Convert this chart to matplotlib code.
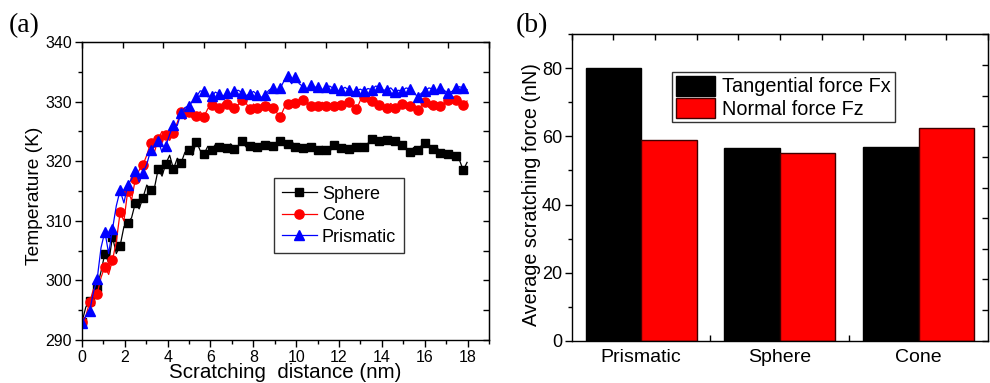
import numpy as np
import matplotlib
matplotlib.use("Agg")
import matplotlib.pyplot as plt
from matplotlib.ticker import MultipleLocator, FixedLocator, NullFormatter

plt.rcParams['font.family'] = ['Liberation Sans', 'DejaVu Sans']

# ---------------- (a) temperature vs scratching distance ----------------
n_samples = 102
distance_step = 0.178  # nm between recorded samples
marker_every = 2

sphere_T = [
    293.0, 295.5, 296.6, 297.5, 298.9, 301.5, 304.5, 303.0, 307.3, 304.5,
    305.8, 309.0, 309.7, 310.5, 313.0, 312.0, 313.9, 316.0, 315.2, 315.5,
    318.7, 317.5, 319.6, 321.0, 318.7, 320.5, 319.7, 321.5, 321.8, 321.0,
    323.3, 321.8, 321.2, 322.5, 321.9, 322.8, 322.3, 321.8, 322.2, 322.9,
    322.1, 322.6, 323.4, 322.4, 322.6, 323.0, 322.4, 322.0, 322.7, 323.1,
    322.5, 322.4, 323.4, 322.6, 322.9, 323.4, 322.4, 321.9, 322.2, 322.8,
    322.3, 322.0, 321.8, 322.5, 321.9, 321.6, 322.7, 322.4, 322.2, 322.8,
    322.0, 321.7, 322.3, 322.8, 322.3, 323.0, 323.8, 323.3, 323.4, 323.9,
    323.6, 323.1, 323.4, 323.0, 322.7, 322.1, 321.5, 322.3, 321.8, 322.6,
    323.0, 322.4, 322.0, 322.5, 321.3, 321.6, 321.2, 321.5, 320.8, 320.2,
    318.5, 319.8,
]

cone_T = [
    293.0, 294.0, 296.3, 298.5, 297.8, 300.5, 302.3, 301.0, 303.4, 306.5,
    311.4, 310.0, 315.0, 313.5, 317.0, 318.5, 319.4, 321.0, 323.1, 321.5,
    323.8, 325.0, 324.4, 323.5, 324.7, 326.5, 328.3, 327.0, 328.2, 327.2,
    327.6, 328.3, 327.5, 328.8, 329.4, 328.6, 329.0, 329.8, 329.6, 328.5,
    329.0, 329.5, 330.2, 329.8, 328.7, 329.6, 328.9, 328.6, 329.3, 329.8,
    328.9, 328.2, 327.4, 328.9, 329.6, 330.2, 329.7, 330.0, 330.3, 329.8,
    329.3, 328.8, 329.2, 329.9, 329.3, 328.9, 329.3, 329.8, 329.5, 329.4,
    330.0, 329.3, 328.7, 330.2, 330.7, 329.9, 330.1, 330.5, 329.4, 328.7,
    328.9, 329.7, 329.0, 329.5, 329.6, 328.9, 329.2, 329.7, 328.6, 329.3,
    329.9, 329.0, 329.4, 329.8, 329.2, 329.6, 330.2, 329.8, 330.2, 330.6,
    329.5, 330.1,
]

prismatic_T = [
    292.9, 294.0, 294.8, 298.0, 300.3, 305.5, 308.2, 304.5, 308.6, 312.5,
    315.1, 313.0, 316.0, 317.0, 318.4, 316.5, 318.0, 319.5, 321.8, 322.5,
    323.4, 321.5, 322.6, 324.5, 326.1, 326.0, 328.1, 329.0, 329.3, 330.0,
    330.8, 331.8, 331.7, 330.8, 330.9, 331.6, 331.2, 330.9, 331.5, 331.2,
    331.8, 331.9, 331.5, 331.0, 331.3, 331.7, 331.1, 330.7, 331.1, 331.9,
    332.3, 331.8, 332.2, 333.5, 334.3, 333.0, 334.2, 333.0, 332.5, 332.0,
    332.8, 332.4, 332.5, 332.0, 332.4, 332.6, 332.2, 331.7, 332.0, 332.4,
    331.9, 331.6, 331.8, 332.1, 331.7, 332.2, 332.0, 332.6, 332.5, 331.9,
    332.0, 332.3, 331.6, 331.9, 331.8, 332.3, 332.1, 331.6, 330.8, 331.4,
    331.8, 332.3, 332.1, 331.8, 332.2, 331.9, 331.4, 331.7, 332.2, 332.5,
    332.3, 332.0,
]

distance = np.arange(n_samples) * distance_step

# ---------------- (b) average scratching force ----------------
tips = ["Prismatic", "Sphere", "Cone"]
tangential_Fx = [80.0, 56.7, 57.0]
normal_Fz = [59.0, 55.1, 62.4]

fig = plt.figure(figsize=(9.9, 3.83), dpi=100)

# ---- panel (a) ----
ax1 = fig.add_axes([0.0828, 0.1123, 0.4111, 0.778])
ax1.plot(distance, sphere_T, color='black', lw=0.9, marker='s', ms=6.0,
         markevery=marker_every, label='Sphere')
ax1.plot(distance, cone_T, color='red', lw=0.9, marker='o', ms=6.6,
         markevery=marker_every, label='Cone')
ax1.plot(distance, prismatic_T, color='blue', lw=0.9, marker='^', ms=7.0,
         markevery=marker_every, label='Prismatic')

ax1.set_xlim(0, 19)
ax1.set_ylim(290, 340)
ax1.xaxis.set_major_locator(MultipleLocator(2))
ax1.xaxis.set_minor_locator(MultipleLocator(1))
ax1.yaxis.set_major_locator(MultipleLocator(10))
ax1.yaxis.set_minor_locator(MultipleLocator(5))
ax1.tick_params(which='major', direction='out', length=5, width=1,
                labelsize=11.5, pad=2)
ax1.tick_params(which='minor', direction='out', length=3, width=1)
ax1.set_xlabel('Scratching  distance (nm)', fontsize=14.8, labelpad=-1)
ax1.set_ylabel('Temperature (K)', fontsize=13.8)
ax1.yaxis.set_label_coords(-0.096, 0.483)
for sp in ax1.spines.values():
    sp.set_linewidth(1.0)

top1 = ax1.secondary_xaxis('top')
top1.xaxis.set_major_locator(FixedLocator(np.arange(0, 19.01, 1.9)))
top1.xaxis.set_major_formatter(NullFormatter())
top1.tick_params(direction='in', length=4, width=1)
right1 = ax1.secondary_yaxis('right')
right1.yaxis.set_major_locator(FixedLocator(np.arange(290, 340.01, 5)))
right1.yaxis.set_major_formatter(NullFormatter())
right1.tick_params(direction='in', length=4, width=1)

leg1 = ax1.legend(loc='upper left', bbox_to_anchor=(0.4717, 0.5436),
                  fontsize=13, frameon=True, fancybox=False,
                  edgecolor='black', handlelength=1.95, handletextpad=0.28,
                  borderpad=0.42, labelspacing=0.25, borderaxespad=0)
leg1.get_frame().set_linewidth(1.0)

fig.text(0.009, 0.932, '(a)', fontsize=20, family='Liberation Serif',
         va='center', ha='left')

# ---- panel (b) ----
ax2 = fig.add_axes([0.5775, 0.1104, 0.4205, 0.800])
pos = np.arange(1, len(tips) + 1)
bw = 0.4
ax2.bar(pos - bw / 2, tangential_Fx, width=bw, color='black',
        edgecolor='black', linewidth=1.0, label='Tangential force Fx')
ax2.bar(pos + bw / 2, normal_Fz, width=bw, color='red',
        edgecolor='#400000', linewidth=1.0, label='Normal force Fz')

ax2.set_xlim(0.5, 3.5)
ax2.set_ylim(0, 90)
ax2.set_xticks(pos)
ax2.set_xticklabels(tips)
ax2.xaxis.set_minor_locator(FixedLocator([1.5, 2.5]))
ax2.tick_params(axis='x', which='major', length=0, labelsize=14, pad=6)
ax2.tick_params(axis='x', which='minor', direction='in', length=4, width=1)
ax2.yaxis.set_major_locator(MultipleLocator(20))
ax2.yaxis.set_minor_locator(MultipleLocator(10))
ax2.tick_params(axis='y', which='major', direction='out', length=5, width=1,
                labelsize=13, pad=2)
ax2.tick_params(axis='y', which='minor', direction='out', length=3, width=1)
ax2.set_ylabel('Average scratching force (nN)', fontsize=14.2)
ax2.yaxis.set_label_coords(-0.073, 0.478)
for sp in ax2.spines.values():
    sp.set_linewidth(1.0)

top2 = ax2.secondary_xaxis('top')
top2.xaxis.set_major_locator(FixedLocator(np.arange(0.5, 3.51, 0.3)))
top2.xaxis.set_major_formatter(NullFormatter())
top2.tick_params(direction='in', length=4, width=1)
right2 = ax2.secondary_yaxis('right')
right2.yaxis.set_major_locator(FixedLocator(np.arange(0, 90.01, 9)))
right2.yaxis.set_major_formatter(NullFormatter())
right2.tick_params(direction='in', length=4, width=1)

leg2 = ax2.legend(loc='upper left', bbox_to_anchor=(0.241, 0.876),
                  fontsize=14.3, frameon=True, fancybox=False,
                  edgecolor='black', handlelength=2.0, handleheight=1.15,
                  handletextpad=0.35, borderpad=0.18, labelspacing=0.08,
                  borderaxespad=0)
leg2.get_frame().set_linewidth(1.0)

fig.text(0.521, 0.932, '(b)', fontsize=20, family='Liberation Serif',
         va='center', ha='left')

fig.savefig('out.png', dpi=100)
